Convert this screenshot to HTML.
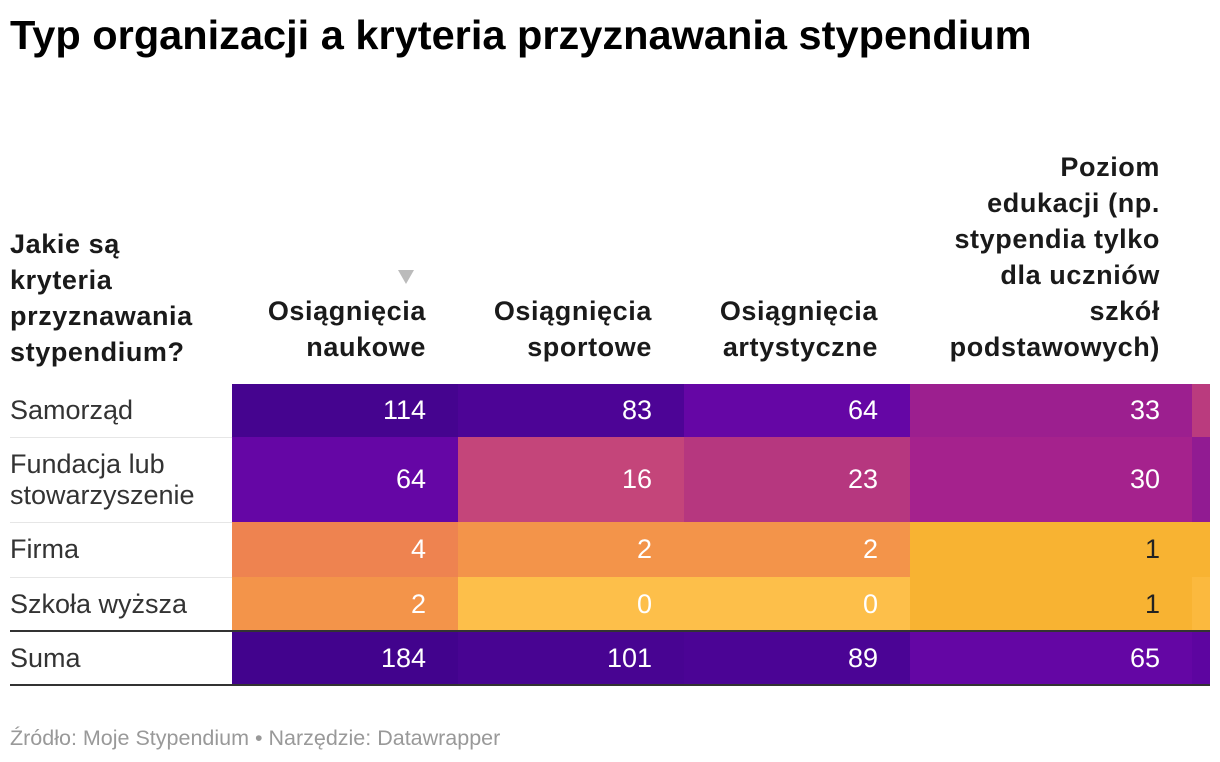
<!DOCTYPE html>
<html><head><meta charset="utf-8">
<style>
body{margin:0;width:1220px;height:762px;background:#fff;font-family:"Liberation Sans",sans-serif;color:#333;position:relative;overflow:hidden}
#title{position:absolute;left:10px;top:12px;font-size:41px;font-weight:bold;color:#000;white-space:nowrap;transform-origin:0 0}
.hd{position:absolute;font-weight:bold;font-size:27px;letter-spacing:0.6px;line-height:36px;color:#1a1a1a;white-space:nowrap}
.cell{position:absolute;text-align:right;font-size:27px;box-sizing:border-box;padding-right:32px;display:flex;align-items:center;justify-content:flex-end}
.lab{position:absolute;left:10px;font-size:27px;line-height:31px;display:flex;align-items:center;color:#333;white-space:nowrap}
.line{position:absolute;left:10px;width:1200px}
#foot{position:absolute;left:10px;top:726px;font-size:21.5px;color:#999}
</style></head><body>
<div id="title">Typ organizacji a kryteria przyznawania stypendium</div>
<div class="hd" style="left:10px;top:226px;width:210px">Jakie są<br>kryteria<br>przyznawania<br>stypendium?</div>
<div style="position:absolute;left:398px;top:270px;width:0;height:0;border-left:8px solid transparent;border-right:8px solid transparent;border-top:14px solid #bbb"></div>
<div id="tbl"></div>
<div id="foot">Źródło: Moje Stypendium • Narzędzie: Datawrapper</div>
<script>
const categories=["Samorząd","Fundacja lub stowarzyszenie","Firma","Szkoła wyższa","Suma"];
const columns=["Osiągnięcia naukowe","Osiągnięcia sportowe","Osiągnięcia artystyczne","Poziom edukacji (np. stypendia tylko dla uczniów szkół podstawowych)",""];
const colNaukowe=[114,64,4,2,184];
const colSportowe=[83,16,2,0,101];
const colArtystyczne=[64,23,2,0,89];
const colPoziom=[33,30,1,1,65];
const colHidden=[21,40,1,0.5,70];
const series=[colNaukowe,colSportowe,colArtystyczne,colPoziom,colHidden];
const headerLines=[["Osiągnięcia","naukowe"],["Osiągnięcia","sportowe"],["Osiągnięcia","artystyczne"],["Poziom","edukacji (np.","stypendia tylko","dla uczniów","szkół","podstawowych)"],[]];

const stops=[[0,"#fdbf4a"],[1,"#f8b332"],[2,"#f3944a"],[4,"#ee8350"],[16,"#c4457a"],[23,"#b6377f"],[30,"#a5228d"],[33,"#9c1f8f"],[40,"#911b92"],[64,"#6506a5"],[83,"#4d0496"],[114,"#45048f"],[184,"#42038d"]];
function hex(c){return [1,3,5].map(i=>parseInt(c.substr(i,2),16));}
function color(v){
  if(v<=stops[0][0])return stops[0][1];
  for(let i=1;i<stops.length;i++){if(v<=stops[i][0]){const a=stops[i-1],b=stops[i];const t=(v-a[0])/(b[0]-a[0]);const x=hex(a[1]),y=hex(b[1]);return "rgb("+x.map((q,k)=>Math.round(q+(y[k]-q)*t)).join(",")+")";}}
  return stops[stops.length-1][1];
}
const colX=[232,458,684,910,1192];
const colW=[226,226,226,282,18];
const rowY=[384,437,522,577,631];
const rowH=[53,85,55,54,54];
const tbl=document.getElementById('tbl');
columns.forEach((c,j)=>{
  if(!headerLines[j].length)return;
  const h=document.createElement('div');
  
  
  h.className='hd';h.style.textAlign='right';
  h.style.right=(1220-colX[j]-colW[j]+32)+'px';
  h.style.top=(365-headerLines[j].length*36)+'px';
  h.innerHTML=headerLines[j].join('<br>');
  tbl.appendChild(h);
});
categories.forEach((r,i)=>{
  const l=document.createElement('div');
  
  
  l.className='lab';l.style.top=rowY[i]+'px';l.style.height=rowH[i]+'px';l.style.width='215px';
  l.innerHTML=r.replace(' lub ',' lub<br>');
  tbl.appendChild(l);
  series.forEach((s,j)=>{
    const d=document.createElement('div');
    
    
    d.className='cell';
    d.style.left=colX[j]+'px';d.style.width=colW[j]+'px';
    d.style.top=rowY[i]+'px';d.style.height=rowH[i]+'px';
    d.style.background=color(s[i]);
    d.style.color=(s[i]>=1&&s[i]<2)?'#222':'#fff';
    if(j<4)d.textContent=s[i];else d.style.padding='0';
    tbl.appendChild(d);
  });
});
[[437,'#e6e6e6',1],[522,'#e6e6e6',1],[577,'#e6e6e6',1],[631,'#333',2],[685,'#333',2]].forEach(([y,c,w])=>{
  const ln=document.createElement('div');
  
  
  ln.className='line';ln.style.top=(y-(w>1?1:0))+'px';ln.style.height=w+'px';ln.style.background=c;
  if(w==1)ln.style.width='222px';
  tbl.appendChild(ln);
});
const t=document.getElementById('title');
t.style.transform='scaleX('+(1022/t.offsetWidth)+')';
</script>
</body></html>
